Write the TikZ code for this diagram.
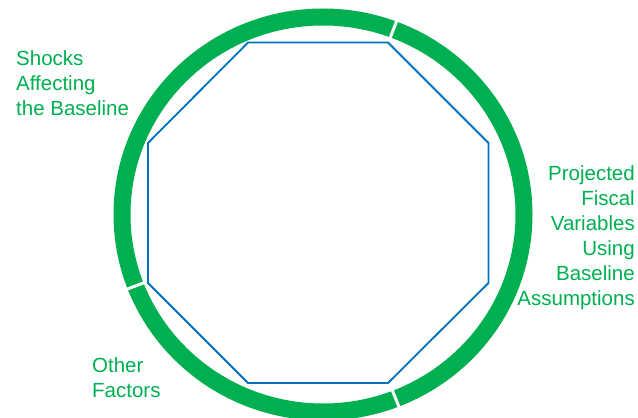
\documentclass[tikz,border=0pt]{standalone}
\usepackage{fontspec}
\setmainfont{Liberation Sans}
\usetikzlibrary{calc}
\definecolor{ringgreen}{HTML}{00B050}
\definecolor{octblue}{HTML}{0070C0}
\tikzset{
  ring/.style={draw=ringgreen, line width=17pt},
  gapcut/.style={draw=white, line width=3pt},
  octo/.style={draw=octblue, line width=1.8pt, line join=miter},
  lbl/.style={text=ringgreen, inner sep=0pt, font=\fontsize{20.5}{25}\selectfont}
}
\begin{document}
\begin{tikzpicture}[x=1pt,y=1pt]
\useasboundingbox (0,0) rectangle (638,418);
\coordinate (c) at (323,203.5);
% ring
\draw[ring] (c) ellipse [x radius=201, y radius=197.5];
% gaps
\draw[gapcut] ($(c)+(69.5:185 and 182)$) -- ($(c)+(69.5:218 and 214)$);
\draw[gapcut] ($(c)+(-68.8:185 and 182)$) -- ($(c)+(-68.8:218 and 214)$);
\draw[gapcut] ($(c)+(201.2:185 and 182)$) -- ($(c)+(201.2:218 and 214)$);
% octagon
\coordinate (v1) at (248,375.5);
\coordinate (v2) at (388,375.5);
\coordinate (v3) at (488.5,275);
\coordinate (v4) at (488.5,135);
\coordinate (v5) at (388,35);
\coordinate (v6) at (248,35);
\coordinate (v7) at (148,135);
\coordinate (v8) at (148,275);
\draw[octo] (v1) -- (v2) -- (v3) -- (v4) -- (v5) -- (v6) -- (v7) -- (v8) -- cycle;
% labels (base anchor = baseline of last line)
\node[lbl, anchor=base west, align=left] (shocks) at (16,302) {Shocks\\Affecting\\the Baseline};
\node[lbl, anchor=base east, align=right] (proj) at (635,112) {Projected\\Fiscal\\Variables\\Using\\Baseline\\Assumptions};
\node[lbl, anchor=base west, align=left] (other) at (92,20) {Other\\Factors};
\end{tikzpicture}
\end{document}
